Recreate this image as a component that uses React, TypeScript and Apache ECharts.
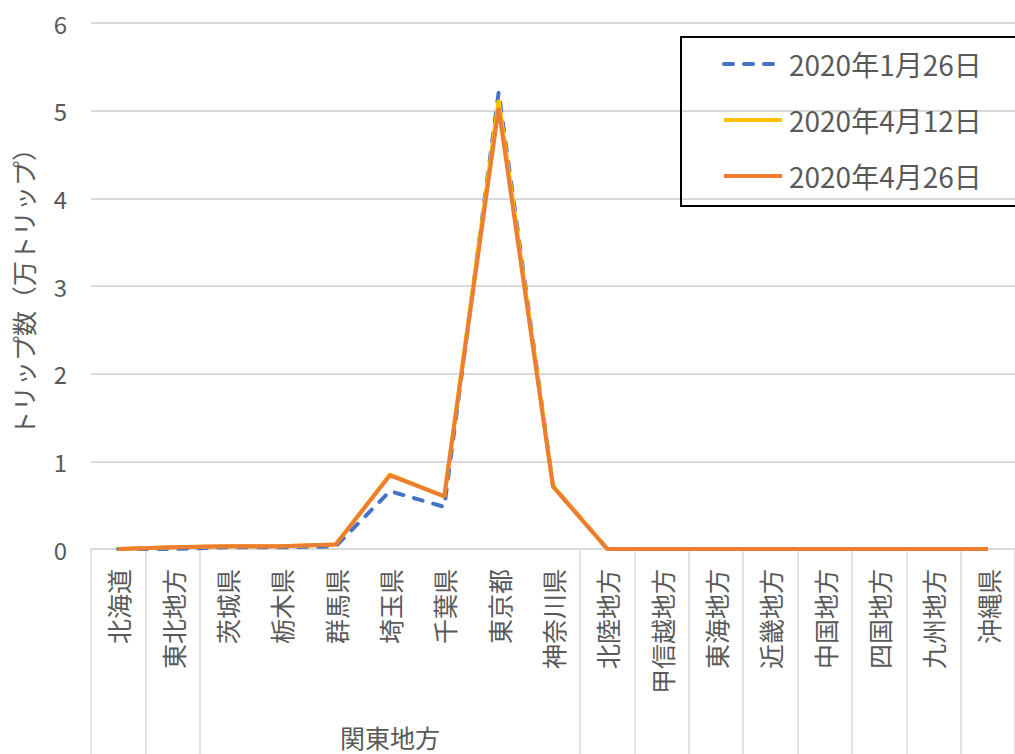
import React, { useEffect, useRef } from "react";
import * as echarts from "echarts";

const categories = [
  "北海道", "東北地方", "茨城県", "栃木県", "群馬県", "埼玉県", "千葉県", "東京都", "神奈川県",
  "北陸地方", "甲信越地方", "東海地方", "近畿地方", "中国地方", "四国地方", "九州地方", "沖縄県",
];
const groupLabel = "関東地方";
const groupCenterIndex = 5;
const groupInnerTickFrom = 3;
const groupInnerTickTo = 8;

const seriesNames = ["2020年1月26日", "2020年4月12日", "2020年4月26日"];
const jan26 = [0, 0.0, 0.02, 0.02, 0.03, 0.66, 0.48, 5.21, 0.72, 0, 0, 0, 0, 0, 0, 0, 0];
const apr12 = [0, 0.02, 0.03, 0.03, 0.05, 0.85, 0.6, 5.12, 0.72, 0, 0, 0, 0, 0, 0, 0, 0];
const apr26 = [0, 0.02, 0.03, 0.03, 0.05, 0.84, 0.6, 5.03, 0.71, 0, 0, 0, 0, 0, 0, 0, 0];
const yTicks = { min: 0, max: 6, interval: 1 };
const yTitle = "トリップ数（万トリップ）";

const textColor = "#595959";
const gridColor = "#D9D9D9";
const font = "'Noto Sans CJK JP', 'Noto Sans', sans-serif";

export default function App() {
  const ref = useRef<HTMLDivElement>(null);
  useEffect(() => {
    if (!ref.current) return;
    const chart = echarts.init(ref.current, undefined, { renderer: "svg" });
    chart.setOption({
      animation: false,
      backgroundColor: "#fff",
      textStyle: { fontFamily: font },
      grid: { left: 91, right: -7, top: 23, bottom: 205, containLabel: false },
      legend: {
        left: 681,
        top: 37,
        orient: "vertical",
        borderColor: "#000",
        borderWidth: 2,
        padding: [13, 40, 16, 41],
        itemGap: 28,
        itemWidth: 58,
        itemHeight: 14,
        itemStyle: { opacity: 0 },
        lineStyle: { width: 4 },
        textStyle: { fontSize: 28, color: textColor, fontFamily: font, padding: [0, 0, 0, 2] },
        data: seriesNames,
      },
      xAxis: [
        {
          type: "category",
          data: categories,
          boundaryGap: true,
          axisLine: { show: true, lineStyle: { color: gridColor, width: 2 } },
          axisTick: {
            show: true,
            length: 205,
            lineStyle: { color: gridColor, width: 1.5 },
            interval: (i: number) => !(i >= groupInnerTickFrom && i <= groupInnerTickTo),
          },
          axisLabel: {
            rotate: 90,
            interval: 0,
            margin: 20,
            fontSize: 25,
            color: textColor,
            fontFamily: font,
          },
        },
        {
          type: "category",
          data: categories,
          position: "bottom",
          gridIndex: 0,
          axisLine: { show: false },
          axisTick: { show: false },
          axisLabel: {
            interval: (i: number) => i === groupCenterIndex,
            formatter: () => groupLabel,
            margin: 175,
            fontSize: 25,
            color: textColor,
            fontFamily: font,
          },
        },
      ],
      yAxis: {
        type: "value",
        min: yTicks.min,
        max: yTicks.max,
        interval: yTicks.interval,
        axisLine: { show: false },
        axisTick: { show: false },
        splitLine: { lineStyle: { color: gridColor, width: 2 } },
        axisLabel: { fontSize: 24, color: textColor, margin: 24, fontFamily: font },
        name: yTitle,
        nameLocation: "middle",
        nameGap: 56,
        nameTextStyle: { fontSize: 25, color: textColor, fontFamily: font },
      },
      series: [
        {
          name: seriesNames[0],
          type: "line",
          data: jan26,
          symbol: "none",
          lineStyle: { color: "#4472C4", width: 4, type: [9, 11], cap: "round" },
          itemStyle: { color: "#4472C4" },
        },
        {
          name: seriesNames[1],
          type: "line",
          data: apr12,
          symbol: "none",
          lineStyle: { color: "#FFC000", width: 4 },
          itemStyle: { color: "#FFC000" },
        },
        {
          name: seriesNames[2],
          type: "line",
          data: apr26,
          symbol: "none",
          lineStyle: { color: "#ED7D31", width: 4 },
          itemStyle: { color: "#ED7D31" },
        },
      ],
    });
    return () => chart.dispose();
  }, []);
  return <div ref={ref} style={{ width: 1015, height: 754, position: "absolute", left: 0, top: 0 }} />;
}
